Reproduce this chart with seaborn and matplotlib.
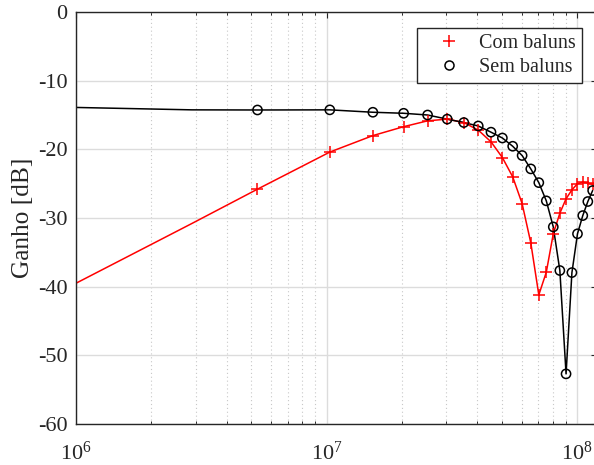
import numpy as np
import pandas as pd
import matplotlib
matplotlib.use("Agg")
import matplotlib.pyplot as plt
from matplotlib.lines import Line2D
from matplotlib.ticker import LogLocator, FixedLocator, NullFormatter
import seaborn as sns

# Frequency sweep (Hz); markers are drawn from 5.3 MHz onwards
freq_hz = [1.0e6, 2.9e6, 5.3e6, 10.3e6, 15.3e6, 20.3e6, 25.3e6, 30.3e6, 35.3e6,
           40.3e6, 45.3e6, 50.3e6, 55.3e6, 60.3e6, 65.3e6, 70.3e6, 75.3e6,
           80.3e6, 85.3e6, 90.3e6, 95.3e6, 100.3e6, 105.3e6, 110.3e6, 115.3e6]

# Gain with baluns (dB)
gain_com = [-39.5, -30.8, -25.8, -20.4, -18.0, -16.7, -15.85, -15.6, -16.1,
            -17.2, -18.9, -21.2, -24.0, -27.9, -33.6, -41.2, -37.9,
            -32.3, -29.3, -27.2, -25.9, -25.0, -24.8, -24.9, -25.1]

# Gain without baluns (dB)
gain_sem = [-13.9, -14.25, -14.27, -14.25, -14.6, -14.75, -15.0, -15.6, -16.1,
            -16.6, -17.5, -18.35, -19.55, -20.9, -22.85, -24.85, -27.5,
            -31.3, -37.65, -52.7, -37.95, -32.3, -29.65, -27.6, -26.0]

series_labels = ["Com baluns", "Sem baluns"]
y_ticks = [-60, -50, -40, -30, -20, -10, 0]
first_marker = 2

sns.set_theme(style="white")
plt.rcParams["font.family"] = ["Liberation Serif", "DejaVu Serif"]
plt.rcParams["mathtext.fontset"] = "custom"
plt.rcParams["mathtext.rm"] = "Liberation Serif"
plt.rcParams["mathtext.it"] = "Liberation Serif:italic"
plt.rcParams["axes.unicode_minus"] = False

df = pd.DataFrame({"freq": freq_hz, "com": gain_com, "sem": gain_sem})
mk = df.iloc[first_marker:]

fig = plt.figure(figsize=(5.94, 4.65), dpi=100)
ax = fig.add_axes([76 / 594, 41 / 465, 521 / 594, 412 / 465])

sns.lineplot(data=df, x="freq", y="com", ax=ax, color="red", lw=1.1,
             sort=False, estimator=None)
sns.lineplot(data=df, x="freq", y="sem", ax=ax, color="black", lw=1.1,
             sort=False, estimator=None)
sns.scatterplot(data=mk, x="freq", y="com", ax=ax, marker="+", s=75,
                color="red", linewidth=1.1, zorder=4)
sns.scatterplot(data=mk, x="freq", y="sem", ax=ax, marker="o", s=44,
                facecolor="none", edgecolor="black", linewidth=1.1, zorder=4)

ax.set_xscale("log")
ax.set_xlim(1e6, 1.2e8)
ax.set_ylim(-60, 0)
ax.yaxis.set_major_locator(FixedLocator(y_ticks))
ax.xaxis.set_major_locator(FixedLocator([1e6, 1e7, 1e8]))
ax.set_xticklabels([r"$10^6$", r"$10^7$", r"$10^8$"])
ax.xaxis.set_minor_locator(LogLocator(base=10, subs=np.arange(2, 10)))
ax.xaxis.set_minor_formatter(NullFormatter())

ax.grid(True, which="major", color="#dcdcdc", lw=1.0, ls="-")
ax.grid(True, which="minor", axis="x", color="#c8c8c8", lw=0.8, ls=(0, (1, 2.5)))
ax.set_axisbelow(True)

for s in ax.spines.values():
    s.set_visible(True)
    s.set_color("#262626")
    s.set_linewidth(1.0)

ax.tick_params(which="major", direction="in", length=4.5, width=0.8,
               top=True, right=True, labelsize=16, colors="#262626", pad=6)
ax.tick_params(axis="x", which="major", pad=13)
ax.tick_params(which="minor", direction="in", length=2.5, width=0.7,
               top=True, bottom=True)
for lab in ax.get_xticklabels() + ax.get_yticklabels():
    lab.set_color("#262626")

ax.set_xlabel("")
ax.set_ylabel("Ganho [dB]", fontsize=18.3, color="#262626", labelpad=3)

handles = [
    Line2D([], [], ls="none", marker="+", color="red", markersize=9, mew=1.1),
    Line2D([], [], ls="none", marker="o", markerfacecolor="none",
           markeredgecolor="black", markersize=6.5, mew=1.1),
]
leg = ax.legend(handles, series_labels, loc="upper right",
                bbox_to_anchor=(0.971, 0.962), fontsize=14.5, frameon=True,
                fancybox=False, edgecolor="#262626", framealpha=1,
                handlelength=2.6, handletextpad=0.2, borderpad=0.3,
                borderaxespad=0.0, labelspacing=0.25)
leg.get_frame().set_linewidth(1.0)

fig.savefig("out.png", dpi=100)
